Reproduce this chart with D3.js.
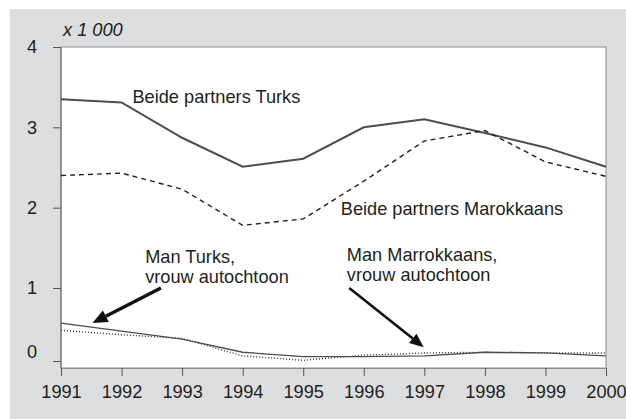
<!DOCTYPE html>
<html>
<head>
<meta charset="utf-8">
<script src="https://cdn.jsdelivr.net/npm/d3@7"></script>
<style>
  html, body { margin: 0; padding: 0; background: #fff; }
  svg { display: block; }
  text { font-family: "Liberation Sans", Arial, Helvetica, sans-serif; fill: #231f20; }
</style>
</head>
<body>
<svg id="chart" width="626" height="419"></svg>
<script>
// ---- data (values x 1 000) ----
const years = [1991, 1992, 1993, 1994, 1995, 1996, 1997, 1998, 1999, 2000];
const beideTurks      = [3.35, 3.31, 2.87, 2.51, 2.61, 3.00, 3.10, 2.93, 2.75, 2.51];
const beideMarokkaans = [2.40, 2.43, 2.23, 1.78, 1.86, 2.33, 2.83, 2.96, 2.57, 2.39];
const manTurks        = [0.52, 0.41, 0.30, 0.12, 0.06, 0.06, 0.07, 0.12, 0.11, 0.07];
const manMarokkaans   = [0.42, 0.36, 0.31, 0.07, 0.01, 0.08, 0.11, 0.12, 0.11, 0.11];
const yTicks = [0, 1, 2, 3, 4];
const unitLabel = "x 1 000";
const labelTurks = "Beide partners Turks";
const labelMarok = "Beide partners Marokkaans";
const labelManTurks = ["Man Turks,", "vrouw autochtoon"];
const labelManMarok = ["Man Marrokkaans,", "vrouw autochtoon"];

// ---- layout ----
const svg = d3.select("#chart");
const W = 626, H = 419;
const plotL = 61, plotR = 606, plotT = 47, plotB = 368;
const FS = 18.2;

svg.append("rect").attr("x", 10).attr("y", 9).attr("width", W - 10).attr("height", H - 9)
  .attr("fill", "#dcdddf");
svg.append("rect").attr("x", plotL).attr("y", plotT).attr("width", plotR - plotL).attr("height", plotB - plotT)
  .attr("fill", "#fff").attr("stroke", "#8c8c8c").attr("stroke-width", 1);

const x = d3.scaleLinear().domain([1991, 2000]).range([plotL, plotR]);
// original axis is slightly irregular near zero
const y = d3.scaleLinear().domain([0, 1, 4]).range([361, 288, plotT]);

// y axis
const yAxis = svg.append("g").attr("transform", `translate(${plotL},0)`)
  .call(d3.axisLeft(y).tickValues(yTicks).tickSize(8).tickPadding(16).tickFormat(d3.format("d")));
yAxis.select(".domain").remove();
yAxis.selectAll(".tick line").attr("stroke", "#555").attr("stroke-width", 1);
yAxis.selectAll(".tick text").attr("font-size", FS).attr("fill", "#231f20")
  .attr("font-family", '"Liberation Sans", Arial, sans-serif');
yAxis.selectAll(".tick text").filter(d => d === 0).attr("dy", "-0.22em");
svg.append("line").attr("x1", plotL).attr("x2", plotL).attr("y1", plotT).attr("y2", plotB)
  .attr("stroke", "#666").attr("stroke-width", 1);

// x axis
const xAxis = svg.append("g").attr("transform", `translate(0,${plotB})`)
  .call(d3.axisBottom(x).tickValues(years).tickSize(8).tickPadding(9).tickFormat(d3.format("d")));
xAxis.select(".domain").attr("stroke", "#8c8c8c");
xAxis.selectAll(".tick line").attr("stroke", "#555");
xAxis.selectAll(".tick text").attr("font-size", FS).attr("fill", "#231f20")
  .attr("font-family", '"Liberation Sans", Arial, sans-serif');

// unit label
svg.append("text").attr("x", plotL + 2).attr("y", 36).attr("font-size", FS)
  .attr("font-style", "italic").text(unitLabel);

// lines
const line = d3.line().x((d, i) => x(years[i])).y(d => y(d));
const series = [
  { v: beideTurks, w: 2, dash: null, c: "#4d4d4d" },
  { v: beideMarokkaans, w: 1.4, dash: "5,4", c: "#222" },
  { v: manMarokkaans, w: 1.4, dash: "1,2", c: "#333" },
  { v: manTurks, w: 1.3, dash: null, c: "#4d4d4d" }
];
series.forEach(s => {
  svg.append("path").datum(s.v).attr("d", line).attr("fill", "none")
    .attr("stroke", s.c).attr("stroke-width", s.w)
    .attr("stroke-dasharray", s.dash);
});

// labels
svg.append("text").attr("x", x(1992.18)).attr("y", y(3.30)).attr("font-size", FS).text(labelTurks);
svg.append("text").attr("x", x(1995.62)).attr("y", y(1.91)).attr("font-size", FS).text(labelMarok);

function multiLabel(px, py, lines) {
  const t = svg.append("text").attr("x", px).attr("y", py).attr("font-size", FS);
  lines.forEach((l, i) => t.append("tspan").attr("x", px).attr("dy", i === 0 ? 0 : 19.5).text(l));
}
multiLabel(x(1992.39), y(1.31), labelManTurks);
multiLabel(x(1995.72), y(1.33), labelManMarok);

// arrows
function arrow(x1, y1, x2, y2, w, headL, headW) {
  const ang = Math.atan2(y2 - y1, x2 - x1);
  const bx = x2 - headL * Math.cos(ang), by = y2 - headL * Math.sin(ang);
  svg.append("line").attr("x1", x1).attr("y1", y1).attr("x2", bx).attr("y2", by)
    .attr("stroke", "#111").attr("stroke-width", w);
  const px = -Math.sin(ang) * headW / 2, py = Math.cos(ang) * headW / 2;
  svg.append("path").attr("d", `M${x2},${y2}L${bx + px},${by + py}L${bx - px},${by - py}Z`).attr("fill", "#111");
}
arrow(x(1992.65), y(1.0), x(1991.52), y(0.52), 3.5, 15, 13);
arrow(x(1995.76), y(1.0), x(1996.99), y(0.19), 2.6, 14, 12);
</script>
</body>
</html>
